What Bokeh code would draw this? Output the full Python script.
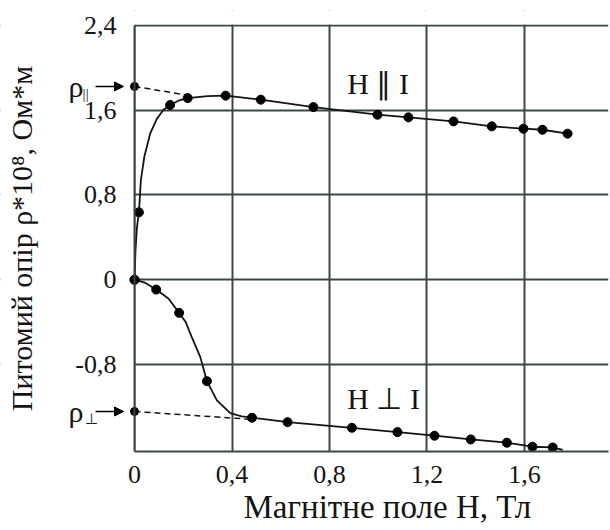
from bokeh.plotting import figure
from bokeh.models import Range1d, FixedTicker, Label, Arrow, NormalHead, BoxAnnotation, Title
from bokeh.embed import file_html
from bokeh.resources import INLINE

# ---- data ----
x_ticks = [0, 0.4, 0.8, 1.2, 1.6]
x_tick_labels = ["0", "0,4", "0,8", "1,2", "1,6"]
y_ticks = [-0.8, 0, 0.8, 1.6, 2.4]
y_tick_labels = ["-0,8", "0", "0,8", "1,6", "2,4"]

# H || I : measured points
par_H = [0, 0.018, 0.146, 0.218, 0.374, 0.518, 0.734, 0.997, 1.124, 1.309, 1.466, 1.596, 1.674, 1.777]
par_rho = [0, 0.636, 1.650, 1.715, 1.738, 1.700, 1.630, 1.558, 1.533, 1.495, 1.448, 1.426, 1.416, 1.379]
# H || I : drawn curve
par_curve_H = [0, 0.004, 0.010, 0.018, 0.026, 0.040, 0.064, 0.092, 0.119, 0.146, 0.180, 0.218, 0.300, 0.374,
               0.518, 0.734, 0.997, 1.124, 1.309, 1.466, 1.596, 1.674, 1.777]
par_curve_rho = [0, 0.277, 0.497, 0.636, 0.938, 1.158, 1.379, 1.520, 1.605, 1.650, 1.690, 1.715, 1.733, 1.738,
                 1.700, 1.630, 1.558, 1.533, 1.495, 1.448, 1.426, 1.416, 1.379]
# extrapolation to H = 0
par_extra_H = [0, 0.215]
par_extra_rho = [1.825, 1.743]

# H ⊥ I : measured points
perp_H = [0, 0.089, 0.183, 0.297, 0.482, 0.628, 0.892, 1.079, 1.231, 1.380, 1.528, 1.633, 1.716]
perp_rho = [0, -0.093, -0.313, -0.958, -1.303, -1.345, -1.398, -1.439, -1.473, -1.508, -1.539, -1.577, -1.584]
# H ⊥ I : drawn curve
perp_curve_H = [0, 0.045, 0.089, 0.140, 0.183, 0.210, 0.235, 0.270, 0.297, 0.338, 0.393, 0.440, 0.482,
                0.628, 0.892, 1.079, 1.231, 1.380, 1.528, 1.633, 1.716, 1.757]
perp_curve_rho = [0, -0.030, -0.093, -0.180, -0.313, -0.400, -0.542, -0.731, -0.958, -1.140, -1.260, -1.290, -1.303,
                  -1.345, -1.398, -1.439, -1.473, -1.508, -1.539, -1.577, -1.584, -1.606]
perp_extra_H = [0, 0.482]
perp_extra_rho = [-1.244, -1.319]

FONT = "Liberation Serif"
INK = "#141414"
GRID = "#3c4646"

X0, X1 = -0.55, 1.945
Y0, Y1 = -1.622, 2.542
Y_TOP = 2.4

p = figure(width=610, height=530, x_range=Range1d(X0, X1), y_range=Range1d(Y0, Y1),
           output_backend="svg", toolbar_location=None,
           min_border_left=0, min_border_right=2, min_border_top=10, min_border_bottom=79)
p.outline_line_color = None
p.background_fill_color = "white"
p.border_fill_color = "white"

p.xaxis.ticker = FixedTicker(ticks=x_ticks)
p.yaxis.ticker = FixedTicker(ticks=y_ticks)
p.xgrid.ticker = FixedTicker(ticks=x_ticks)
p.ygrid.ticker = FixedTicker(ticks=y_ticks)
p.xaxis.major_label_overrides = {t: s for t, s in zip(x_ticks, x_tick_labels)}
p.yaxis.major_label_overrides = {t: s for t, s in zip(y_ticks, y_tick_labels)}
p.yaxis.fixed_location = 0
p.xaxis.bounds = (0, X1)
p.yaxis.bounds = (Y0, Y_TOP)

p.grid.grid_line_color = GRID
p.grid.grid_line_width = 2
for ax in (p.xaxis, p.yaxis):
    ax.axis_line_color = GRID
    ax.axis_line_width = 2
    ax.major_tick_line_color = None
    ax.minor_tick_line_color = None
    ax.major_label_text_font = FONT
    ax.major_label_text_font_size = "26px"
    ax.major_label_text_color = INK
    ax.axis_label_text_font = FONT
    ax.axis_label_text_font_size = "30px"
    ax.axis_label_text_font_style = "normal"
    ax.axis_label_text_color = INK

p.yaxis.axis_label = "Питомий опір ρ*10⁸, Ом*м"
p.xaxis.major_label_standoff = 8
p.yaxis.major_label_standoff = 12
p.yaxis.axis_label_standoff = 34

# x-axis title, placed under the axis (shifted right as in the original)
p.add_layout(Title(text="Магнітне поле Н, Тл", align="left", offset=243, standoff=3,
                   text_font=FONT, text_font_size="33px", text_font_style="normal",
                   text_color=INK), "below")

# keep the grid inside H >= 0 and rho <= 2.4 (the area outside holds the axis texts)
p.add_layout(BoxAnnotation(right=0, fill_color="white", fill_alpha=1, line_color=None, level="underlay"))
p.add_layout(BoxAnnotation(bottom=Y_TOP + 0.01, fill_color="white", fill_alpha=1, line_color=None,
                           level="underlay"))

# extrapolation dashes
p.line(par_extra_H, par_extra_rho, line_color=INK, line_width=1.5, line_dash="6 4")
p.line(perp_extra_H, perp_extra_rho, line_color=INK, line_width=1.5, line_dash="6 4")

# curves
p.line(par_curve_H, par_curve_rho, line_color=INK, line_width=1.8)
p.line(perp_curve_H, perp_curve_rho, line_color=INK, line_width=1.8)

# points
p.scatter(par_H, par_rho, size=9, color="black")
p.scatter(perp_H, perp_rho, size=9, color="black")
p.scatter([par_extra_H[0], perp_extra_H[0]], [par_extra_rho[0], perp_extra_rho[0]], size=8, color="black")

# arrows pointing to the extrapolated values
for r in (par_extra_rho[0], perp_extra_rho[0]):
    p.add_layout(Arrow(end=NormalHead(size=9, fill_color="black", line_color="black"),
                       x_start=-0.160, y_start=r, x_end=-0.045, y_end=r,
                       line_color="black", line_width=1.5))

# rho labels
for r, sub, sub_x in ((par_extra_rho[0], "||", -0.213), (perp_extra_rho[0], "⊥", -0.205)):
    p.add_layout(Label(x=-0.271, y=r, text="ρ", text_font=FONT, text_font_size="30px",
                       text_color=INK, text_baseline="middle", y_offset=0))
    p.add_layout(Label(x=sub_x, y=r, text=sub, text_font=FONT, text_font_size="15px",
                       text_color=INK, text_baseline="middle", y_offset=-8))

# curve labels
p.add_layout(Label(x=0.873, y=1.693, text="H ∥ I", text_font=FONT, text_font_size="30px",
                   text_color=INK))
p.add_layout(Label(x=0.873, y=-1.281, text="H ⊥ I", text_font=FONT, text_font_size="30px",
                   text_color=INK))

open("out.html", "w").write(file_html(p, INLINE))
